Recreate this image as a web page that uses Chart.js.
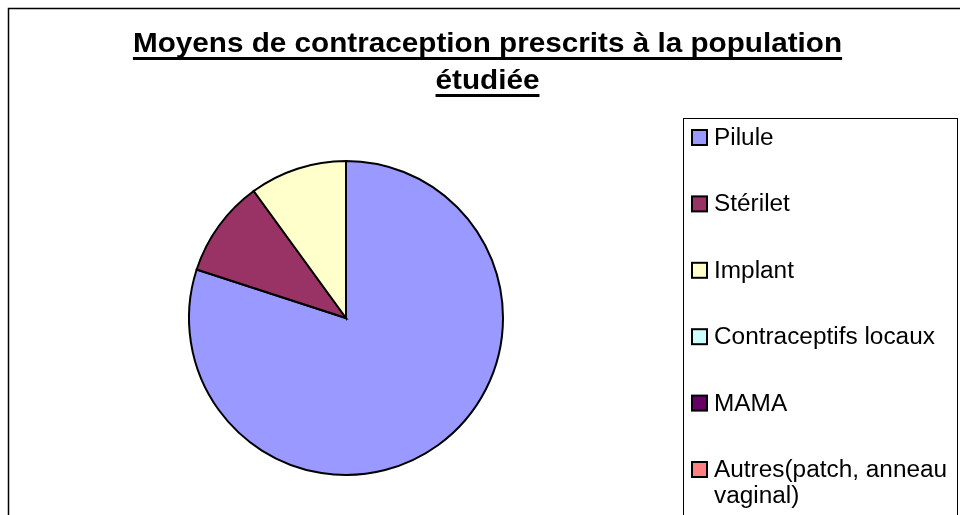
<!DOCTYPE html>
<html>
<head>
<meta charset="utf-8">
<script src="https://cdn.jsdelivr.net/npm/chart.js@4"></script>
<style>
  html, body { margin: 0; padding: 0; background: #fff; }
  #wrap { width: 960px; height: 515px; position: relative; }
</style>
</head>
<body>
<div id="wrap"><canvas id="pieChart" width="960" height="515"></canvas></div>
<script>
const titleLines = ["Moyens de contraception prescrits à la population", "étudiée"];
const categories = ["Pilule", "Stérilet", "Implant", "Contraceptifs locaux", "MAMA", "Autres(patch, anneau vaginal)"];
const values = [80, 10, 10, 0, 0, 0];
const colors = ["#9999FF", "#993366", "#FFFFCC", "#CCFFFF", "#660066", "#FF8080"];

// text in the original is slightly stretched sideways
const stretch = 1.06;

function stretchedText(ctx, text, x, y, align) {
  const w = ctx.measureText(text).width * stretch;
  let left = x;
  if (align === "center") left = x - w / 2;
  ctx.save();
  ctx.translate(left, y);
  ctx.scale(stretch, 1);
  ctx.textAlign = "left";
  ctx.fillText(text, 0, 0);
  ctx.restore();
  return { left, w };
}

// draws the frame, the underlined title and the boxed legend
const decorations = {
  id: "decorations",
  afterDraw(chart) {
    const ctx = chart.ctx;
    ctx.save();

    // outer frame (runs off the right and bottom edges)
    ctx.strokeStyle = "#000";
    ctx.lineWidth = 1.5;
    ctx.strokeRect(8.5, 8.5, 980, 540);

    // title
    ctx.fillStyle = "#000";
    ctx.font = "bold 28px 'Liberation Sans', Arial, sans-serif";
    ctx.textBaseline = "alphabetic";
    const cx = 487.5;
    const baselines = [52, 89];
    titleLines.forEach((line, i) => {
      const r = stretchedText(ctx, line, cx, baselines[i], "center");
      ctx.fillRect(r.left, baselines[i] + 5, r.w, 3);
    });

    // legend box
    ctx.lineWidth = 1;
    ctx.strokeStyle = "#000";
    ctx.strokeRect(683.5, 118.5, 274, 420);

    ctx.font = "23px 'Liberation Sans', Arial, sans-serif";
    ctx.textBaseline = "alphabetic";
    const maxW = 240;
    categories.forEach((label, i) => {
      const y = 137.5 + i * 66.4;
      ctx.fillStyle = colors[i];
      ctx.fillRect(692, y - 7.5, 15, 15);
      ctx.lineWidth = 2;
      ctx.strokeStyle = "#000";
      ctx.strokeRect(692, y - 7.5, 15, 15);

      // simple word wrap
      const words = label.split(" ");
      const lines = [];
      let cur = "";
      words.forEach((wd) => {
        const test = cur ? cur + " " + wd : wd;
        if (ctx.measureText(test).width * stretch > maxW && cur) {
          lines.push(cur);
          cur = wd;
        } else {
          cur = test;
        }
      });
      lines.push(cur);
      ctx.fillStyle = "#000";
      lines.forEach((ln, j) => {
        stretchedText(ctx, ln, 714, y + 7.5 + j * 26, "left");
      });
    });

    ctx.restore();
  }
};

const ctx = document.getElementById("pieChart").getContext("2d");
new Chart(ctx, {
  type: "pie",
  data: {
    labels: categories,
    datasets: [
      {
        data: values,
        backgroundColor: colors,
        borderColor: "#000",
        borderWidth: 2,
        borderJoinStyle: "miter",
      },
    ],
  },
  options: {
    responsive: false,
    animation: false,
    layout: {
      padding: { left: 188, right: 456, top: 160, bottom: 39 },
    },
    plugins: {
      legend: { display: false },
      title: { display: false },
      tooltip: { enabled: false },
    },
  },
  plugins: [decorations],
});
</script>
</body>
</html>
